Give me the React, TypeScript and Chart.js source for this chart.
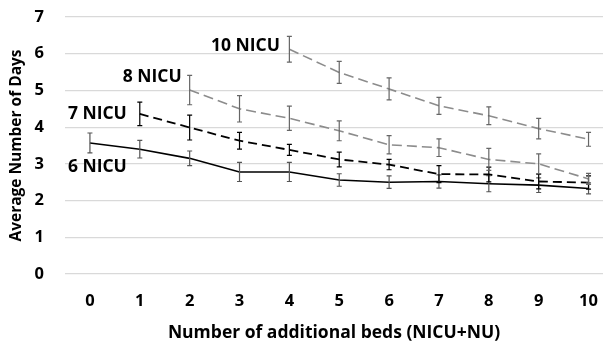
import React, { useEffect, useRef } from "react";
import { Chart, registerables } from "chart.js";

Chart.register(...registerables);

const beds = [0, 1, 2, 3, 4, 5, 6, 7, 8, 9, 10];
const seriesNames = ["6 NICU", "7 NICU", "8 NICU", "10 NICU"];

const nicu6 = [3.57, 3.4, 3.15, 2.78, 2.78, 2.56, 2.5, 2.52, 2.46, 2.42, 2.33];
const nicu6Err = [0.27, 0.24, 0.2, 0.26, 0.26, 0.17, 0.17, 0.18, 0.22, 0.2, 0.15];

const nicu7 = [null, 4.36, 3.99, 3.63, 3.38, 3.12, 2.98, 2.72, 2.71, 2.52, 2.49];
const nicu7Err = [null, 0.32, 0.34, 0.23, 0.15, 0.2, 0.14, 0.23, 0.2, 0.2, 0.18];

const nicu8 = [null, null, 5.01, 4.5, 4.24, 3.9, 3.52, 3.44, 3.12, 3.0, 2.59];
const nicu8Err = [null, null, 0.4, 0.36, 0.33, 0.27, 0.25, 0.24, 0.3, 0.27, 0.15];

const nicu10 = [null, null, null, null, 6.12, 5.49, 5.04, 4.58, 4.31, 3.96, 3.67];
const nicu10Err = [null, null, null, null, 0.35, 0.3, 0.3, 0.23, 0.24, 0.28, 0.19];

// label anchors (right edge / vertical centre) in data units
const labelX = [0.74, 0.74, 1.84, 3.81];
const labelY = [2.92, 4.36, 5.37, 6.22];

const yTicks = [0, 1, 2, 3, 4, 5, 6, 7];

const FONT = "'Open Sans', sans-serif";
const BLACK = "#000000";
const GRAY = "#8c8c8c";

const errorBarPlugin = {
  id: "errorBars",
  afterDatasetsDraw(chart: any) {
    const ctx = chart.ctx;
    const yScale = chart.scales.y;
    chart.data.datasets.forEach((ds: any, i: number) => {
      const meta = chart.getDatasetMeta(i);
      const errs: (number | null)[] = ds.errors || [];
      ctx.save();
      ctx.strokeStyle = ds.errorColor;
      ctx.lineWidth = 1.2;
      meta.data.forEach((pt: any, j: number) => {
        const d = ds.data[j];
        const v = d == null ? null : typeof d === "number" ? d : d.y;
        const e = errs[j];
        if (v == null || e == null) return;
        const x = pt.x;
        const yTop = yScale.getPixelForValue(v + e);
        const yBot = yScale.getPixelForValue(v - e);
        ctx.beginPath();
        ctx.moveTo(x, yTop);
        ctx.lineTo(x, yBot);
        ctx.moveTo(x - 2.5, yTop);
        ctx.lineTo(x + 2.5, yTop);
        ctx.moveTo(x - 2.5, yBot);
        ctx.lineTo(x + 2.5, yBot);
        ctx.stroke();
      });
      ctx.restore();
    });
  },
};

const labelPlugin = {
  id: "seriesLabels",
  afterDatasetsDraw(chart: any) {
    const ctx = chart.ctx;
    const xs = chart.scales.x;
    const ys = chart.scales.y;
    ctx.save();
    ctx.font = `bold 17.5px ${FONT}`;
    ctx.fillStyle = "#000";
    ctx.textAlign = "right";
    ctx.textBaseline = "middle";
    seriesNames.forEach((name, i) => {
      ctx.fillText(name, xs.getPixelForValue(labelX[i]), ys.getPixelForValue(labelY[i]));
    });
    ctx.restore();
  },
};

export default function App() {
  const ref = useRef<HTMLCanvasElement | null>(null);

  useEffect(() => {
    document.body.style.margin = "0";
    const toXY = (arr: (number | null)[]) =>
      arr.map((v, i) => ({ x: beds[i], y: v }));
    const chart = new Chart(ref.current as HTMLCanvasElement, {
      type: "line",
      data: {
        datasets: [
          {
            label: seriesNames[0],
            data: toXY(nicu6) as any,
            errors: nicu6Err,
            errorColor: "#555555",
            borderColor: BLACK,
            borderWidth: 1.6,
            pointRadius: 0,
            fill: false,
          } as any,
          {
            label: seriesNames[1],
            data: toXY(nicu7) as any,
            errors: nicu7Err,
            errorColor: BLACK,
            borderColor: BLACK,
            borderWidth: 1.8,
            borderDash: [9, 5],
            pointRadius: 0,
            fill: false,
          } as any,
          {
            label: seriesNames[2],
            data: toXY(nicu8) as any,
            errors: nicu8Err,
            errorColor: "#666666",
            borderColor: GRAY,
            borderWidth: 1.6,
            borderDash: [10, 5],
            pointRadius: 0,
            fill: false,
          } as any,
          {
            label: seriesNames[3],
            data: toXY(nicu10) as any,
            errors: nicu10Err,
            errorColor: "#666666",
            borderColor: GRAY,
            borderWidth: 1.6,
            borderDash: [10, 5],
            pointRadius: 0,
            fill: false,
          } as any,
        ],
      },
      options: {
        animation: false,
        responsive: false,
        maintainAspectRatio: false,
        spanGaps: false,
        layout: { padding: { top: 17, right: 0, left: 0, bottom: 0 } },
        plugins: {
          legend: { display: false },
          tooltip: { enabled: false },
        },
        scales: {
          x: {
            type: "linear",
            min: -0.5,
            max: 10.29,
            afterBuildTicks: (s: any) => {
              s.ticks = beds.map((v) => ({ value: v }));
            },
            afterFit: (s: any) => {
              s.height = 70;
              s.paddingLeft = 0;
              s.paddingRight = 0;
            },
            grid: { display: false, drawTicks: false },
            border: { display: false },
            ticks: {
              padding: 17,
              color: "#000",
              font: { family: FONT, size: 16.5, weight: "bold" },
              maxRotation: 0,
              autoSkip: false,
            },
            title: {
              display: true,
              text: "Number of additional beds (NICU+NU)",
              color: "#000",
              font: { family: FONT, size: 17.5, weight: "bold" },
              padding: { top: 1, bottom: 0 },
            },
          },
          y: {
            min: 0,
            max: 7,
            afterBuildTicks: (s: any) => {
              s.ticks = yTicks.map((v) => ({ value: v }));
            },
            afterFit: (s: any) => {
              s.width = 65;
              s.paddingTop = 0;
              s.paddingBottom = 0;
            },
            grid: { color: "#d9d9d9", lineWidth: 1.2, drawTicks: false },
            border: { display: false },
            ticks: {
              padding: 21,
              color: "#000",
              font: { family: FONT, size: 16.5, weight: "bold" },
            },
            title: {
              display: true,
              text: "Average Number of Days",
              color: "#000",
              font: { family: FONT, size: 15.5, weight: "bold" },
              padding: { top: 7, bottom: 0 },
            },
          },
        },
      } as any,
      plugins: [errorBarPlugin, labelPlugin],
    });
    return () => chart.destroy();
  }, []);

  return (
    <div style={{ width: 603, height: 344 }}>
      <canvas ref={ref} width={603} height={344} style={{ display: "block" }} />
    </div>
  );
}
